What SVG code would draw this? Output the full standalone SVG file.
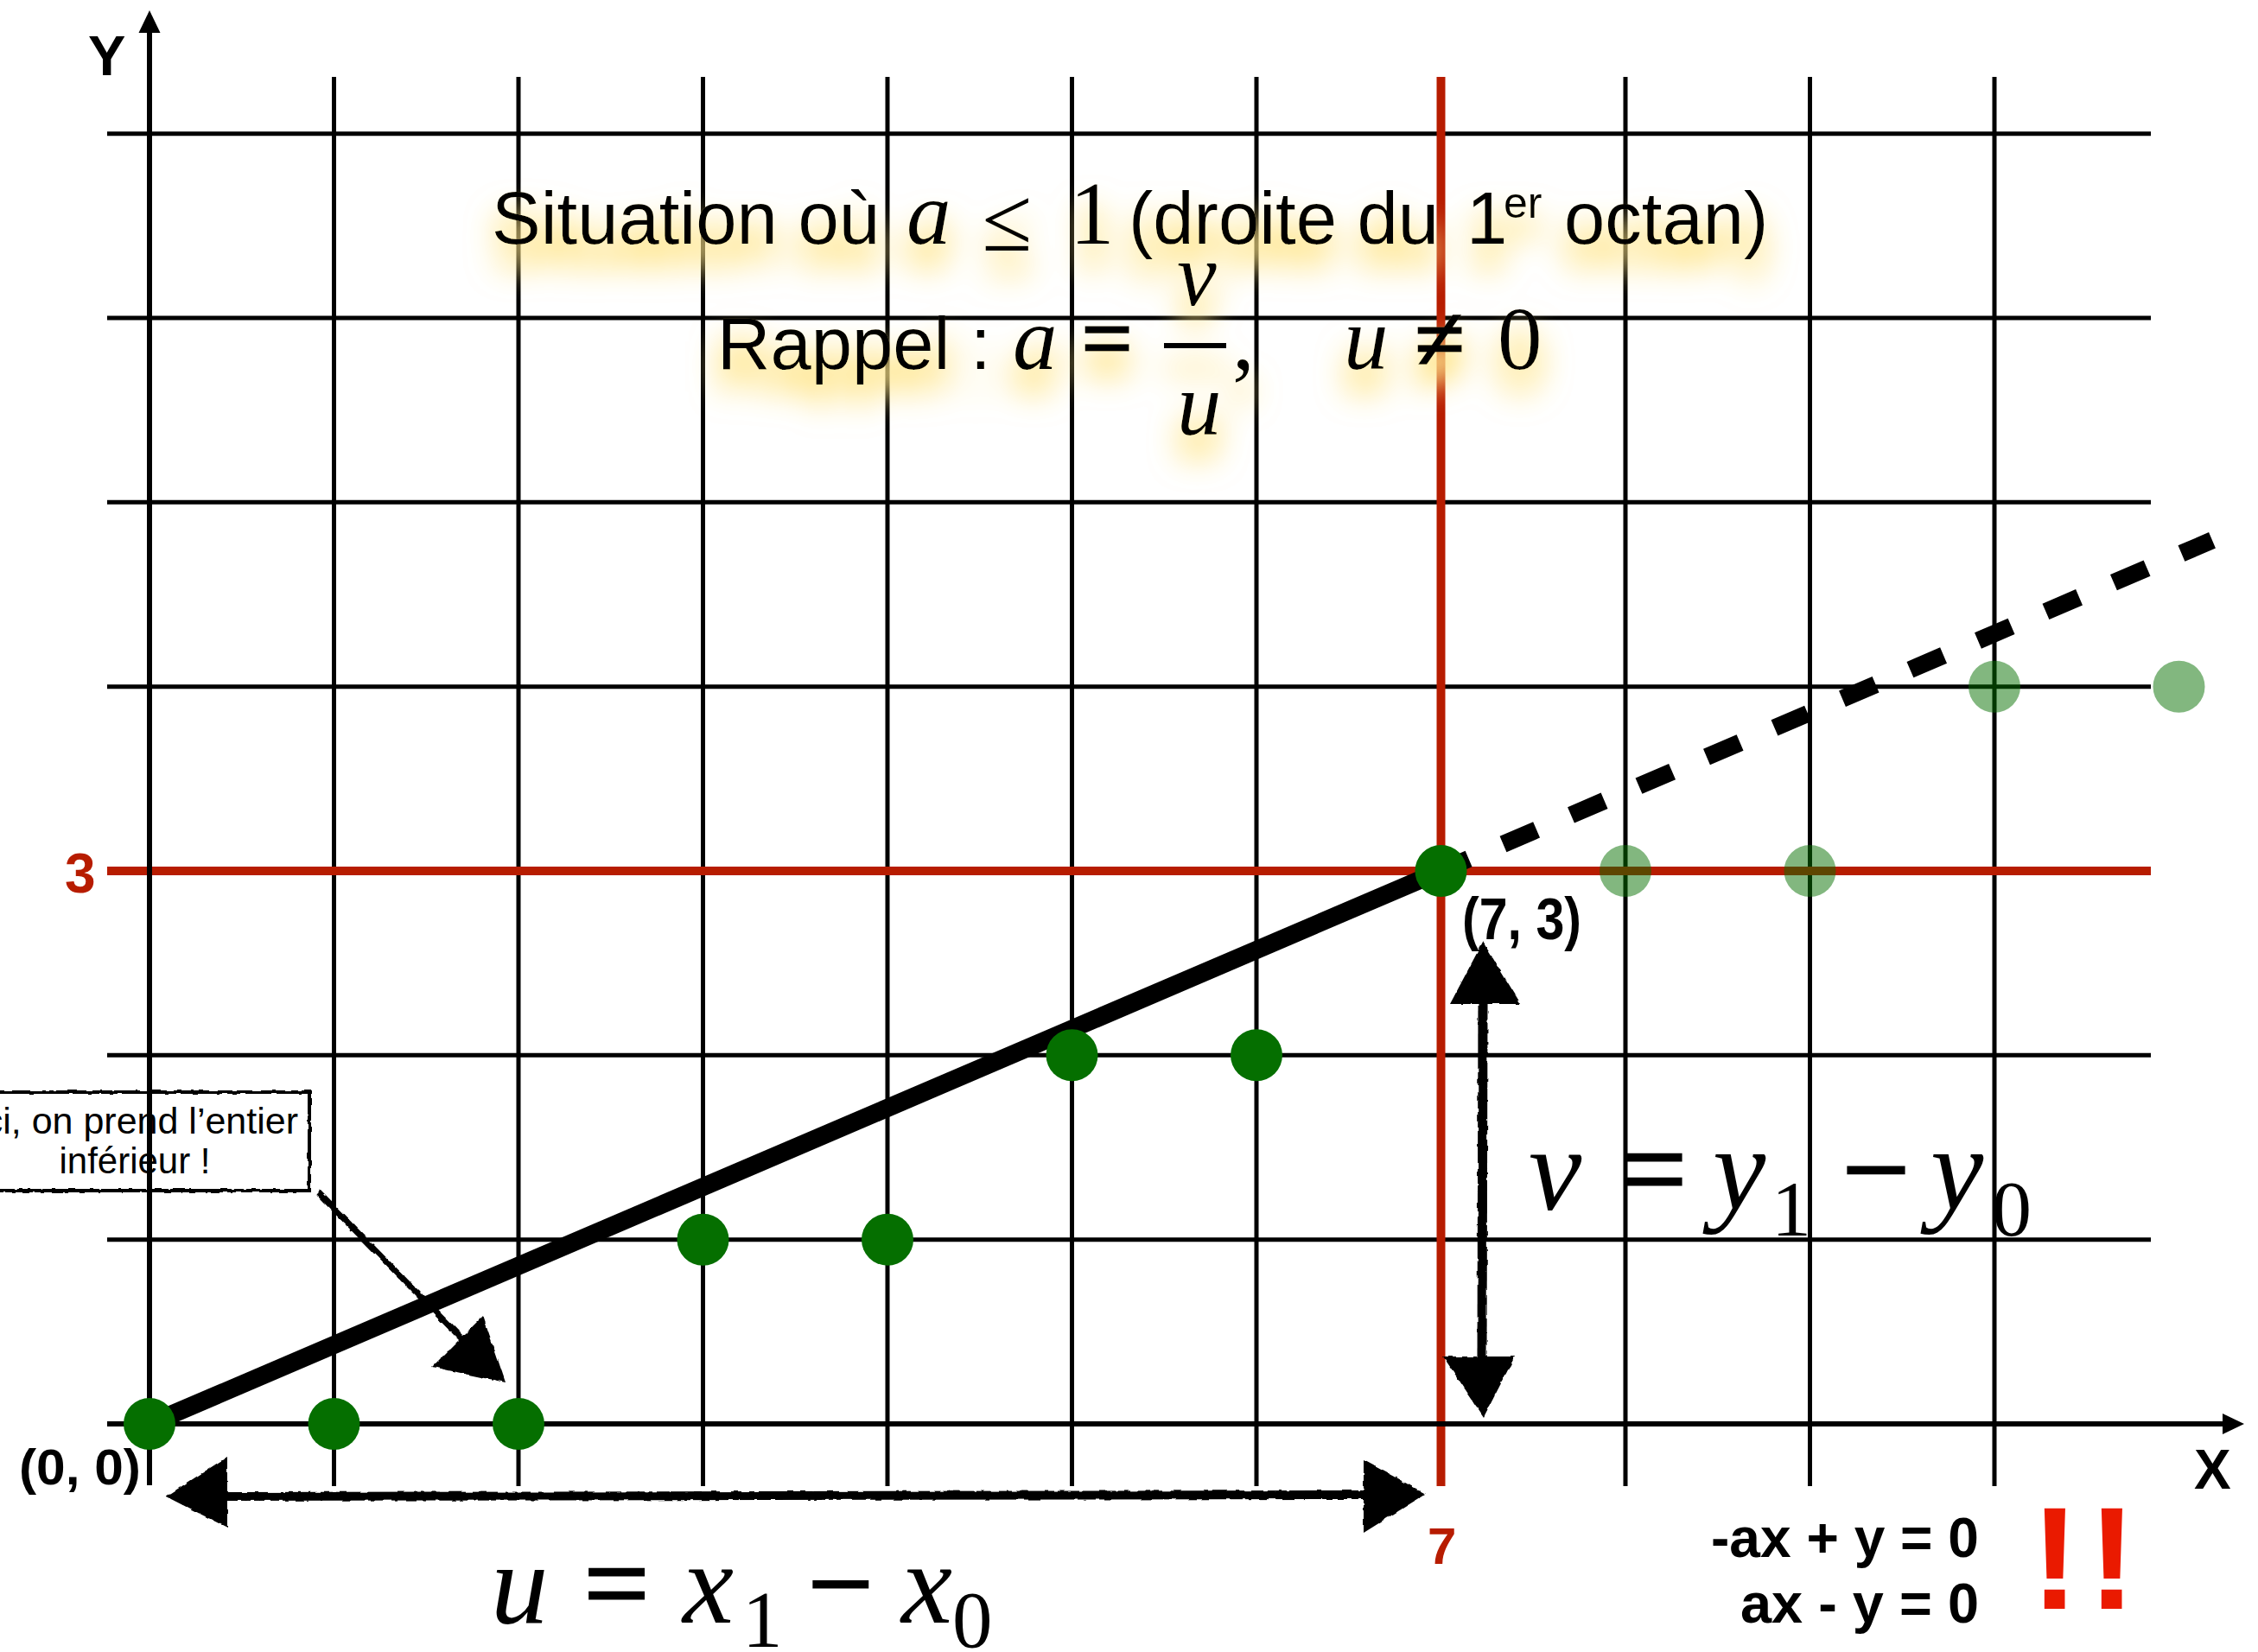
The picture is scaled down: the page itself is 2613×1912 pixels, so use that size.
<svg xmlns="http://www.w3.org/2000/svg" width="2613" height="1912" viewBox="0 0 2613 1912">
<defs>
<style>
.grid{stroke:#000;stroke-width:5;fill:none}
.red{stroke:#B71C00;stroke-width:10;fill:none}
.dot{fill:#056F00}
.ghost{fill:#056F00;fill-opacity:0.5}
.sans{font-family:"Liberation Sans",Arial,Helvetica,sans-serif}
.bold{font-family:"Liberation Sans",Arial,Helvetica,sans-serif;font-weight:bold}
.math{font-family:"Liberation Serif","Times New Roman",serif}
.it{font-style:italic}
.heavy{stroke:#000;stroke-width:3}
</style>
<filter id="glow" filterUnits="userSpaceOnUse" x="0" y="0" width="2613" height="1912">
<feGaussianBlur in="SourceAlpha" stdDeviation="18" result="b"/>
<feOffset in="b" dy="26" result="o"/>
<feComponentTransfer in="o" result="oo"><feFuncA type="linear" slope="2.4"/></feComponentTransfer>
<feFlood flood-color="#FFE58A" flood-opacity="0.85"/>
<feComposite in2="oo" operator="in" result="s"/>
<feMerge><feMergeNode in="s"/><feMergeNode in="SourceGraphic"/></feMerge>
</filter>
<filter id="rough" filterUnits="userSpaceOnUse" x="0" y="0" width="2613" height="1912">
<feTurbulence type="fractalNoise" baseFrequency="0.09" numOctaves="2" seed="4" result="n"/>
<feDisplacementMap in="SourceGraphic" in2="n" scale="4" xChannelSelector="R" yChannelSelector="G"/>
</filter>
</defs>
<rect x="0" y="0" width="2613" height="1912" fill="#fff"/>

<g id="grid">
<path class="grid" d="M124 154.7H2489M124 368H2489M124 581.3H2489M124 794.7H2489M124 1221.3H2489M124 1434.7H2489"/>
<path class="grid" d="M386.5 89V1720M600 89V1720M813.5 89V1720M1027 89V1720M1240.5 89V1720M1454 89V1720M1881 89V1720M2094.5 89V1720M2308 89V1720"/>
</g>
<g id="red-lines">
<path class="red" d="M124 1008H2489"/>
<path class="red" d="M1667.5 89V1720"/>
</g>
<g id="axes">
<path d="M173 1719V35" stroke="#000" stroke-width="6" fill="none"/>
<polygon points="173,12 160.5,38 185.5,38" fill="#000"/>
<path d="M124 1648H2575" stroke="#000" stroke-width="6" fill="none"/>
<polygon points="2597,1648 2572,1636 2572,1660" fill="#000"/>
<text class="bold" x="102" y="87" font-size="65">Y</text>
<text class="bold" x="2539" y="1723" font-size="64">X</text>
<text class="bold" x="75" y="1033" font-size="64" fill="#B71C00">3</text>
<text class="bold" x="1652" y="1810" font-size="60" fill="#B71C00">7</text>
</g>

<g id="connectors">
<path id="segment" d="M173 1648L1667.5 1008" stroke="#000" stroke-width="21" fill="none"/>
<path id="extension" d="M1661 1010.6L2560 625.3" stroke="#000" stroke-width="20" stroke-dasharray="42 43.4" fill="none"/>
<g id="u-arrow" filter="url(#rough)">
<path d="M258 1732L1583 1730" stroke="#000" stroke-width="10" fill="none"/>
<polygon points="192,1732 263,1686 263,1768" fill="#000"/>
<polygon points="1650,1729 1578,1690 1578,1774" fill="#000"/>
</g>
<g id="v-arrow" filter="url(#rough)">
<path d="M1716 1158L1715 1575" stroke="#000" stroke-width="11" fill="none"/>
<polygon points="1716,1090 1678,1162 1760,1162" fill="#000"/>
<polygon points="1717,1640 1670,1570 1753,1570" fill="#000"/>
</g>
<g id="callout-arrow" filter="url(#rough)">
<path d="M368 1380L535 1550" stroke="#000" stroke-width="7" fill="none"/>
<polygon points="585,1600 500,1582 559,1523" fill="#000"/>
</g>
</g>

<g id="nodes">
<circle id="p0" class="dot" cx="173" cy="1648" r="30"/>
<circle id="p1" class="dot" cx="386.5" cy="1648" r="30"/>
<circle id="p2" class="dot" cx="600" cy="1648" r="30"/>
<circle id="p3" class="dot" cx="813.5" cy="1434.7" r="30"/>
<circle id="p4" class="dot" cx="1027" cy="1434.7" r="30"/>
<circle id="p5" class="dot" cx="1240.5" cy="1221.3" r="30"/>
<circle id="p6" class="dot" cx="1454" cy="1221.3" r="30"/>
<circle id="p7" class="dot" cx="1667.5" cy="1008" r="30"/>
<circle id="p8" class="ghost" cx="1881" cy="1008" r="30"/>
<circle id="p9" class="ghost" cx="2094.5" cy="1008" r="30"/>
<circle id="p10" class="ghost" cx="2308" cy="794.7" r="30"/>
<circle id="p11" class="ghost" cx="2521.5" cy="794.7" r="30"/>
</g>

<g id="point-labels">
<text class="bold" x="22" y="1718" font-size="57" textLength="141" lengthAdjust="spacingAndGlyphs">(0, 0)</text>
<text class="bold" x="1692" y="1087" font-size="68" textLength="138" lengthAdjust="spacingAndGlyphs">(7, 3)</text>
</g>

<g id="title" filter="url(#glow)">
<text class="sans" x="569" y="282" font-size="85">Situation où</text>
<text class="math it" x="1049" y="282" font-size="103">a</text>
<text class="math" x="1136" y="290" font-size="106">≤</text>
<text class="math" x="1238" y="282" font-size="103">1</text>
<text class="sans" x="1306" y="282" font-size="85">(droite du</text>
<text class="sans" x="1697" y="282" font-size="85">1</text>
<text class="sans" x="1740" y="252" font-size="50">er</text>
<text class="sans" x="1810" y="282" font-size="85">octan)</text>
<text class="sans" x="830" y="427" font-size="85">Rappel :</text>
<text class="math it" x="1172" y="427" font-size="103">a</text>
<text class="math heavy" x="1252" y="427" font-size="103">=</text>
<text class="math it" x="1362" y="353" font-size="103">v</text>
<path d="M1347 400H1419" stroke="#000" stroke-width="6"/>
<text class="math it" x="1362" y="503" font-size="103">u</text>
<text class="math" x="1426" y="427" font-size="103">,</text>
<text class="math it" x="1555" y="427" font-size="103">u</text>
<text class="math heavy" x="1638" y="427" font-size="103">≠</text>
<text class="math" x="1733" y="427" font-size="103">0</text>
</g>

<g id="v-label">
<text class="math it" x="1769" y="1400" font-size="138">v</text>
<text class="math heavy" x="1874" y="1400" font-size="138">=</text>
<text class="math it" x="1982" y="1400" font-size="138">y</text>
<text class="math" x="2050" y="1430" font-size="92">1</text>
<text class="math heavy" x="2132" y="1400" font-size="138">−</text>
<text class="math it" x="2234" y="1400" font-size="138">y</text>
<text class="math" x="2305" y="1430" font-size="92">0</text>
</g>

<g id="u-label">
<text class="math it" x="568" y="1878" font-size="133">u</text>
<text class="math heavy" x="676" y="1878" font-size="133">=</text>
<text class="math it" x="790" y="1878" font-size="133">x</text>
<text class="math" x="859" y="1906" font-size="93">1</text>
<text class="math heavy" x="935" y="1878" font-size="133">−</text>
<text class="math it" x="1043" y="1878" font-size="133">x</text>
<text class="math" x="1102" y="1906" font-size="93">0</text>
</g>

<g id="callout">
<rect x="-60" y="1264" width="418" height="114" fill="none" stroke="#000" stroke-width="4" filter="url(#rough)"/>
<text class="sans" x="345" y="1312" font-size="43" text-anchor="end">Ici, on prend l’entier</text>
<text class="sans" x="156" y="1358" font-size="42" text-anchor="middle">inférieur !</text>
</g>

<g id="equations">
<text class="bold" x="2290" y="1802" font-size="64" text-anchor="end" textLength="310" lengthAdjust="spacingAndGlyphs">-ax + y = 0</text>
<text class="bold" x="2290" y="1878" font-size="64" text-anchor="end" textLength="276" lengthAdjust="spacingAndGlyphs">ax - y = 0</text>
<text class="bold" x="2350" y="1862" font-size="168" fill="#EA1A00" letter-spacing="10">!!</text>
</g>
</svg>
